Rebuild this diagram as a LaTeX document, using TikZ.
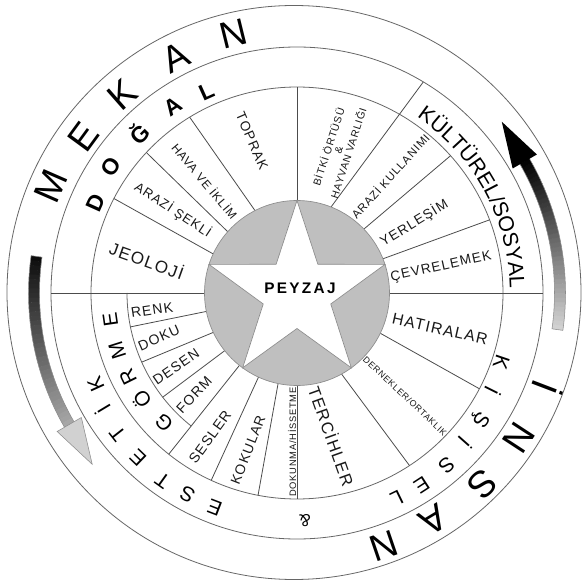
\documentclass[tikz,border=0pt]{standalone}
\usepackage{fontspec}
\setmainfont{Liberation Sans}
\newfontfamily\lsp[LetterSpace=8]{Liberation Sans}
\newfontfamily\psp[LetterSpace=15]{Liberation Sans}
\usetikzlibrary{decorations.text}
\newcommand\fsz[1]{\fontsize{#1pt}{#1pt}\selectfont}
\begin{document}
\begin{tikzpicture}[x=0.75pt,y=0.75pt,
  ring/.style={draw=black!60, line width=0.6pt},
  secline/.style={draw=black!70, line width=0.6pt},
  lbl/.style={inner sep=0pt, text=black!90, font=\lsp},
  bigletter/.style={inner sep=0pt, font=\fsz{28}},
  midletter/.style={inner sep=0pt, font=\fsz{15.5}},
  boldletter/.style={inner sep=0pt, font=\fsz{17}\bfseries},
  headline/.style={draw=black!45, line width=0.4pt}]
\useasboundingbox (0,0) rectangle (582,587);
\fill[white] (0,0) rectangle (582,587);
\coordinate (C) at (297,294);
\coordinate (O) at (294,294.5);

% rings
\draw[ring] (O) circle[radius=287];
\draw[ring] (C) circle[radius=246];
\draw[ring] (C) circle[radius=206];
\draw[ring] ([shift={(C)}]180:170) arc[start angle=180, end angle=231.5, radius=170];

% sector lines
\foreach \ai/\ao/\ri/\ro in {90/90/92.5/206, 117/121.4/92.5/206, 138.5/137/92.5/206,
  155/152.7/92.5/206, 180/180/92.5/246, -168.5/-168.5/92.5/170, -154.8/-156/92.5/170,
  -141.4/-142.2/92.5/170, -128.5/-128.5/92.5/206, -114.6/-114.6/92.5/206,
  -101.8/-100.9/92.5/206, -90/-90/92.5/206, -61.2/-56.9/92.5/206, -25.8/-27.7/92.5/206,
  0/0/92.5/246, 21.7/20.8/92.5/206, 43.7/41.8/92.5/206, 68.4/59.1/92.5/246}
  \draw[secline] ([shift={(C)}]\ai:\ri) -- ([shift={(C)}]\ao:\ro);

% centre
\draw[fill=black!25, draw=black!45, line width=0.5pt] (C) circle[radius=92.5];
\draw[fill=white, draw=black!45, line width=0.5pt]
  ([shift={(C)}]90:92.5) -- ([shift={(C)}]126:35.5) -- ([shift={(C)}]162:92.5) --
  ([shift={(C)}]198:35.5) -- ([shift={(C)}]234:92.5) -- ([shift={(C)}]270:35.5) --
  ([shift={(C)}]306:92.5) -- ([shift={(C)}]342:35.5) -- ([shift={(C)}]18:92.5) --
  ([shift={(C)}]54:35.5) -- cycle;
\node[inner sep=0pt, font=\psp\fsz{11.5}\bfseries] (peyzaj) at (300,299) {PEYZAJ};

% sector labels
\node[lbl, font=\lsp\fsz{12.8}, rotate=-19.7] (jeo) at (147,327) {JEOLOJİ};
\node[lbl, font=\lsp\fsz{9.8}, rotate=-33.3] (arazis) at (173,377) {ARAZİ ŞEKLİ};
\node[lbl, font=\lsp\fsz{9}, rotate=-50.2] (hava) at (205,406) {HAVA VE İKLİM};
\node[lbl, font=\lsp\fsz{10.2}, rotate=-66.5] (toprak) at (252,446) {TOPRAK};
\node[lbl, font=\lsp\fsz{7.8}, rotate=72, align=center] (bitki) at (338,437) {BİTKİ ÖRTÜSÜ\\\&\\HAYVAN VARLIĞI};
\node[lbl, font=\lsp\fsz{8.6}, rotate=47.7] (arazik) at (390,411) {ARAZİ KULLANIMI};
\node[lbl, font=\lsp\fsz{10.2}, rotate=31.2] (yer) at (414,364) {YERLEŞİM};
\node[lbl, font=\lsp\fsz{10.2}, rotate=12.5] (cev) at (441,320) {ÇEVRELEMEK};
\node[lbl, font=\lsp\fsz{11.8}, rotate=-12.7] (hat) at (440,258) {HATIRALAR};
\node[lbl, font=\lsp\fsz{6.6}, rotate=-43.2] (der) at (405,191) {DERNEKLER/ORTAKLIK};
\node[lbl, font=\lsp\fsz{12.4}, rotate=-70.3] (ter) at (332,151) {TERCİHLER};
\node[lbl, font=\lsp\fsz{7}, rotate=90] (dok) at (292,145) {DOKUNMA/HİSSETME};
\node[lbl, font=\lsp\fsz{10.4}, rotate=68.7] (kok) at (248,137) {KOKULAR};
\node[lbl, font=\lsp\fsz{10.6}, rotate=54] (ses) at (210,150) {SESLER};
\node[lbl, font=\lsp\fsz{10.5}, rotate=47] (form) at (194,192) {FORM};
\node[lbl, font=\lsp\fsz{10.5}, rotate=34.6] (desen) at (176,220) {DESEN};
\node[lbl, font=\lsp\fsz{10.5}, rotate=24] (doku) at (159,249) {DOKU};
\node[lbl, font=\lsp\fsz{10.5}, rotate=8.5] (renk) at (152,277) {RENK};

% outer band letters
\foreach \a/\r/\t [count=\i] in {156.4/268/M, 143.8/264/E, 131.3/264/K, 117.2/265/A, 103.8/267/N}
  \node[bigletter, rotate=\a-90] (mekan\i) at ([shift={(C)}]\a:\r) {\t};
\foreach \a/\r/\t [count=\i] in {-20.9/268/İ, -33.2/265/N, -45.9/266/S, -58.9/265/A, -71.1/267/N}
  \node[bigletter, rotate=\a-90] (insan\i) at ([shift={(C)}]\a:\r) {\t};

% middle band letters
\foreach \a/\r/\t [count=\i] in {155.8/221/D, 146/225/O, 134.8/225/Ğ, 123.7/224/A, 114.2/221/L}
  \node[boldletter, rotate=\a-90] (dogal\i) at ([shift={(C)}]\a:\r) {\t};
\foreach \a/\r/\t [count=\i] in {-18.8/216/K, -26.5/219/İ, -34.5/222/Ş, -41.6/225/İ, -49/228/S, -57/229/E, -64/228/L}
  \node[midletter, rotate=\a-90] (kisisel\i) at ([shift={(C)}]\a:\r) {\t};
\node[midletter, font=\fsz{13}, rotate=-178] (amp) at ([shift={(C)}]-88:228) {\&};
\foreach \a/\r/\t [count=\i] in {-111/230/E, -118.6/229/S, -125.6/231/T, -134/229/E, -141.9/228/T, -149/227/İ, -155.5/221/K}
  \node[midletter, rotate=\a-90] (estetik\i) at ([shift={(C)}]\a:\r) {\t};
\foreach \a/\r/\t [count=\i] in {-135.7/186/G, -145.7/188.5/Ö, -153.7/188.5/R, -162.4/188.5/M, -171.8/188.5/E}
  \node[midletter, rotate=\a-90] (gorme\i) at ([shift={(C)}]\a:\r) {\t};
\path[decorate, decoration={text along path, text align=center,
   text={|\fsz{16}|KÜLTÜREL/SOSYAL}}]
   ([shift={(C)}]57:213) arc[start angle=57, end angle=0, radius=213];

% left arrow (black to light, pointing down)
\foreach \i in {0,...,37} {
  \pgfmathsetmacro\aa{172+\i}
  \pgfmathsetmacro\bb{173.1+\i}
  \pgfmathtruncatemacro\pp{95-\i*1.6}
  \fill[black!\pp!white] ([shift={(C)}]\aa:257.5) arc[start angle=\aa, end angle=\bb, radius=257.5]
     -- ([shift={(C)}]\bb:268.5) arc[start angle=\bb, end angle=\aa, radius=268.5] -- cycle;
}
\draw[headline] ([shift={(C)}]210:257.5) arc[start angle=210, end angle=172, radius=257.5]
   -- ([shift={(C)}]172:268.5) arc[start angle=172, end angle=210, radius=268.5];
\coordinate (lh1) at ([shift={(C)}]210:249);
\coordinate (lh2) at ([shift={(C)}]210:277);
\path ([shift={(C)}]210:263) ++(300:46) coordinate (lht);
\draw[headline, fill=black!18] (lh1) -- (lht) -- (lh2) -- cycle;

% right arrow (light to black, pointing up)
\foreach \i in {0,...,37} {
  \pgfmathsetmacro\aa{-8+\i}
  \pgfmathsetmacro\bb{-6.9+\i}
  \pgfmathtruncatemacro\pp{18+\i*2.2}
  \fill[black!\pp!white] ([shift={(C)}]\aa:257.5) arc[start angle=\aa, end angle=\bb, radius=257.5]
     -- ([shift={(C)}]\bb:268.5) arc[start angle=\bb, end angle=\aa, radius=268.5] -- cycle;
}
\draw[headline] ([shift={(C)}]30:257.5) arc[start angle=30, end angle=-8, radius=257.5]
   -- ([shift={(C)}]-8:268.5) arc[start angle=-8, end angle=30, radius=268.5];
\coordinate (rh1) at ([shift={(C)}]30:249);
\coordinate (rh2) at ([shift={(C)}]30:277);
\path ([shift={(C)}]30:263) ++(120:46) coordinate (rht);
\fill[black] (rh1) -- (rht) -- (rh2) -- cycle;
\end{tikzpicture}
\end{document}
